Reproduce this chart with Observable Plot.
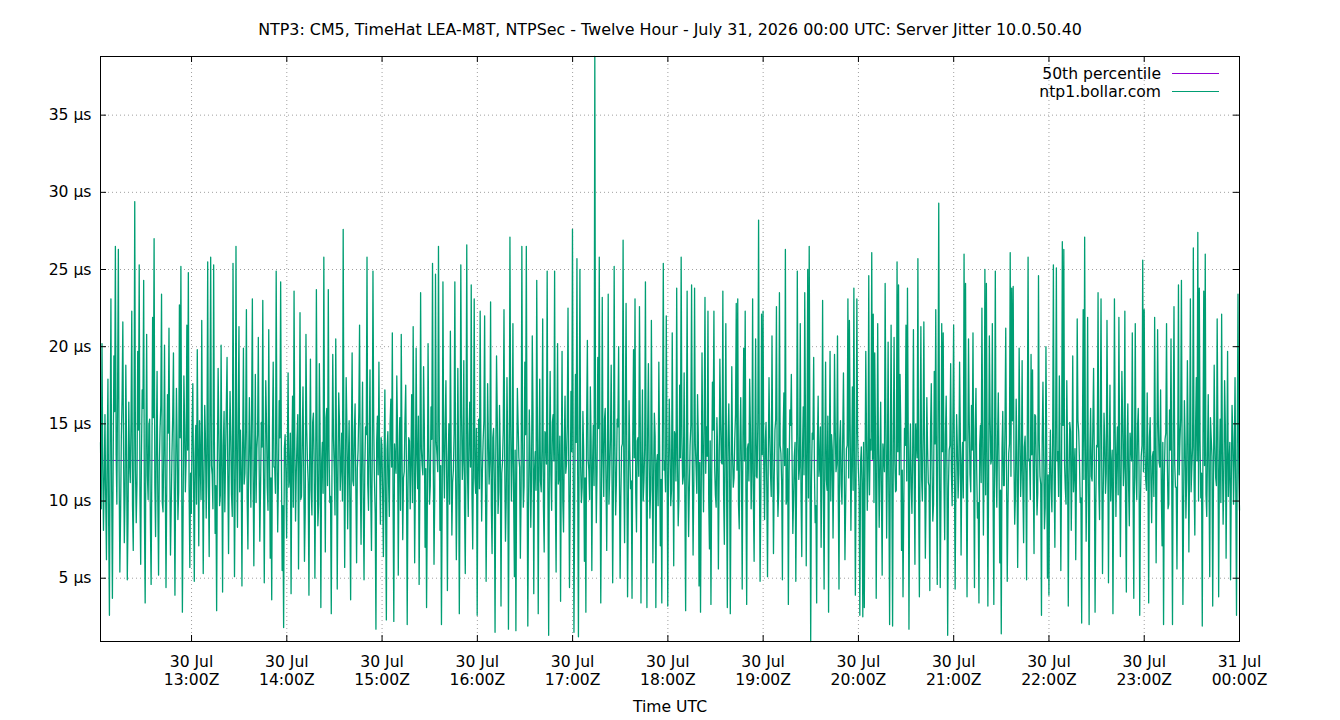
<!DOCTYPE html>
<html>
<head>
<meta charset="utf-8">
<script src="https://cdn.jsdelivr.net/npm/d3@7"></script>
<script src="https://cdn.jsdelivr.net/npm/@observablehq/plot@0.6"></script>
<style>
  html, body { margin: 0; padding: 0; background: #fff; overflow: hidden; }
  #chart { width: 1340px; height: 720px; }
</style>
</head>
<body>
<div id="chart"></div>
<script>
// ---- Text ----
const title = "NTP3: CM5, TimeHat LEA-M8T, NTPSec - Twelve Hour - July 31, 2026 00:00 UTC: Server Jitter 10.0.50.40";
const xLabel = "Time UTC";
const seriesNames = ["50th percentile", "ntp1.bollar.com"];
const seriesColors = ["#9400d3", "#009e73"];

// ---- Axes ----
const firstSample = "2026-07-30T12:02:40Z";
const lastSample = "2026-07-31T00:00:00Z";
const hourTicks = [
  "2026-07-30T13:00:00Z", "2026-07-30T14:00:00Z", "2026-07-30T15:00:00Z",
  "2026-07-30T16:00:00Z", "2026-07-30T17:00:00Z", "2026-07-30T18:00:00Z",
  "2026-07-30T19:00:00Z", "2026-07-30T20:00:00Z", "2026-07-30T21:00:00Z",
  "2026-07-30T22:00:00Z", "2026-07-30T23:00:00Z", "2026-07-31T00:00:00Z"
];
const yTicks = [5, 10, 15, 20, 25, 30, 35];

// ---- 50th percentile of server jitter (µs) ----
const median50 = 12.63;

// ---- Server jitter samples (µs), one array per UTC hour ----
const jitter12 = [
  13.8, 9.5, 20.2, 12.6, 8.1, 11.4, 15.6, 10.2, 6.2, 13.1, 17.9, 8.4, 2.6, 14.3, 23.1, 10.7,
  3.7, 12.2, 19.4, 15.8, 26.5, 13.0, 9.8, 17.5, 26.3, 11.9, 5.4, 9.1, 14.2, 16.7, 21.6, 12.8,
  7.3, 10.5, 18.8, 13.6, 4.9, 8.9, 16.4, 12.4, 11.2, 15.1, 22.3, 9.7, 6.8, 14.0, 29.4, 12.0,
  8.6, 11.1, 19.7, 14.6, 25.3, 10.3, 5.9, 12.9, 17.2, 16.0, 24.3, 9.2, 3.4, 13.5, 20.8, 11.6,
  10.1, 14.9, 15.3, 8.7, 4.6, 12.5, 21.9, 15.4, 27.0, 11.0, 7.7, 13.8, 18.4, 10.0, 5.2, 12.3,
  14.7, 16.2, 23.4, 9.9, 9.3, 13.2, 20.1, 11.5, 4.4, 10.8, 16.9, 14.4, 21.2, 12.7, 6.5, 9.6,
  13.1, 15.5, 19.6, 11.3, 3.9, 12.1, 17.3, 13.7, 8.8, 10.6, 22.7, 14.1, 25.2, 12.0, 2.8, 9.4,
  18.1, 15.0, 10.6, 12.6, 21.4, 13.3, 24.8, 10.9, 5.7, 11.8
];
const jitter13 = [
  9.2, 14.7, 17.6, 11.3, 4.8, 12.9, 14.9, 9.8, 19.8, 13.4, 7.1, 15.2, 12.4, 10.1, 21.7, 12.6,
  5.3, 11.7, 16.2, 14.0, 8.9, 13.1, 25.5, 10.9, 6.4, 15.7, 25.8, 12.3, 11.7, 9.5, 25.3, 13.8,
  7.9, 11.0, 2.9, 12.8, 18.6, 14.5, 9.7, 10.4, 20.1, 12.2, 4.1, 13.6, 15.8, 9.3, 12.9, 16.1,
  19.3, 11.8, 6.6, 12.7, 17.1, 14.2, 10.4, 9.0, 25.4, 13.3, 5.1, 11.4, 26.5, 12.5, 8.3, 15.3,
  21.3, 10.6, 14.6, 12.0, 4.5, 13.9, 19.9, 11.1, 11.8, 14.8, 22.4, 10.2, 6.9, 12.4, 16.7, 13.0,
  9.6, 15.9, 23.1, 11.6, 5.8, 12.1, 18.2, 9.9, 13.4, 14.3, 20.6, 12.9, 7.4, 10.8, 15.1, 13.5,
  23.0, 11.9, 4.7, 12.6, 17.8, 15.0, 10.9, 9.4, 21.1, 13.2, 6.3, 11.5, 3.6, 14.6, 19.0, 12.2,
  12.2, 10.5, 24.9, 13.7, 8.0, 11.2, 16.5, 14.1, 24.2, 12.8, 5.5, 9.7, 1.8, 13.4, 14.3, 11.9
];
const jitter14 = [
  7.6, 13.2, 18.3, 10.9, 11.5, 14.4, 4.0, 12.7, 16.8, 9.6, 23.6, 13.5, 8.7, 11.8, 14.0, 15.6,
  5.6, 12.3, 22.2, 10.1, 10.3, 13.9, 17.4, 12.0, 6.1, 9.3, 20.8, 14.7, 12.6, 11.2, 3.9, 13.1,
  19.2, 10.7, 9.1, 15.1, 15.7, 12.5, 5.0, 11.4, 23.7, 13.8, 8.4, 9.8, 18.9, 14.2, 3.1, 12.4,
  13.8, 10.5, 25.8, 12.9, 6.7, 15.4, 16.0, 11.0, 23.7, 13.3, 9.9, 10.3, 2.7, 12.8, 19.5, 14.0,
  12.1, 9.1, 20.5, 13.6, 4.3, 11.6, 17.0, 15.2, 10.7, 12.2, 14.4, 10.0, 27.6, 13.0, 5.7, 11.9,
  18.0, 14.9, 8.2, 12.6, 15.2, 9.5, 3.6, 13.7, 19.6, 11.3, 11.0, 14.5, 16.3, 10.8, 6.0, 12.1,
  13.3, 15.8, 21.4, 11.5, 7.2, 13.4, 17.7, 9.9, 4.9, 12.0, 14.8, 14.3, 25.8, 11.1, 9.4, 13.6,
  18.5, 10.4, 6.8, 12.8, 24.9, 15.0, 11.3, 9.2, 1.7, 13.9, 15.5, 11.7, 19.0, 12.4, 8.5, 14.1
];
const jitter15 = [
  13.6, 10.4, 6.4, 12.8, 17.2, 9.7, 2.3, 13.3, 14.5, 11.1, 9.0, 15.0, 16.6, 12.2, 20.9, 10.0,
  2.2, 13.7, 12.7, 11.8, 18.1, 14.6, 5.2, 12.4, 15.4, 9.4, 20.8, 13.1, 7.5, 11.5, 11.9, 15.3,
  17.5, 12.0, 2.0, 10.7, 14.1, 13.9, 9.5, 12.6, 16.9, 9.9, 21.3, 14.2, 6.0, 11.3, 19.9, 12.9,
  10.8, 15.5, 4.6, 10.9, 23.5, 13.4, 12.3, 11.7, 18.7, 14.8, 7.0, 12.1, 3.1, 9.6, 20.2, 13.6,
  9.8, 11.0, 16.1, 14.0, 25.4, 12.5, 5.9, 10.5, 24.7, 13.8, 13.0, 11.9, 26.5, 15.1, 8.1, 12.3,
  2.0, 10.2, 24.2, 13.2, 10.2, 14.9, 17.8, 11.6, 4.2, 12.7, 15.0, 9.8, 21.0, 13.5, 7.8, 11.2,
  12.0, 14.4, 24.2, 12.0, 6.2, 10.6, 18.6, 13.0, 2.7, 11.4, 25.3, 15.6, 11.4, 12.8, 19.1, 9.5,
  5.3, 13.7, 26.6, 11.8, 9.0, 14.3, 16.4, 12.2, 24.0, 10.4, 6.9, 13.1, 23.1, 11.5, 10.5, 14.7
];
const jitter16 = [
  2.6, 12.4, 15.3, 10.8, 22.3, 13.6, 8.7, 11.9, 13.9, 15.2, 22.0, 12.1, 4.8, 10.3, 17.6, 13.9,
  11.1, 12.6, 22.9, 9.7, 6.6, 14.1, 14.7, 11.4, 1.5, 12.9, 19.4, 15.4, 9.2, 10.6, 16.2, 13.2,
  3.2, 11.8, 12.5, 14.6, 22.4, 12.3, 7.4, 10.1, 18.0, 13.5, 1.7, 11.2, 27.1, 14.8, 10.0, 12.7,
  21.5, 9.9, 5.1, 13.3, 1.6, 11.6, 17.3, 15.0, 12.8, 12.2, 6.3, 10.4, 26.5, 13.8, 9.6, 11.0,
  19.0, 14.3, 26.5, 12.5, 1.9, 9.8, 15.9, 13.1, 8.3, 11.5, 20.7, 15.7, 4.0, 12.0, 13.2, 10.7,
  24.3, 14.0, 2.7, 12.8, 17.9, 11.3, 10.6, 13.4, 21.8, 9.6, 6.7, 14.5, 14.3, 12.4, 24.9, 10.9,
  1.3, 13.0, 18.4, 11.7, 9.4, 15.1, 15.6, 12.6, 24.9, 10.2, 5.4, 13.7, 20.2, 11.1, 11.6, 14.2,
  3.5, 12.3, 19.7, 10.0, 8.0, 13.6, 16.8, 11.8, 12.4, 14.9, 22.5, 12.1, 4.4, 10.5, 17.1, 13.2
];
const jitter17 = [
  27.6, 12.9, 1.5, 10.6, 18.2, 13.8, 25.7, 11.7, 1.2, 14.4, 25.0, 12.2, 9.9, 10.9, 15.8, 13.3,
  6.1, 11.5, 2.8, 15.0, 20.4, 12.7, 12.0, 10.1, 17.4, 13.9, 5.5, 12.4, 14.9, 11.0, 38.8, 13.6,
  8.6, 11.9, 19.3, 14.7, 25.8, 12.1, 3.4, 10.4, 23.2, 13.1, 10.3, 15.3, 16.0, 11.4, 6.8, 12.6,
  23.4, 9.8, 11.7, 14.0, 18.8, 12.3, 4.7, 10.7, 25.2, 13.5, 9.1, 11.2, 15.3, 14.8, 20.0, 12.0,
  5.0, 10.3, 13.5, 13.7, 26.9, 11.8, 7.3, 15.1, 22.8, 12.5, 3.8, 9.9, 16.5, 13.2, 10.8, 11.3,
  3.7, 14.3, 19.8, 12.8, 23.1, 10.5, 8.0, 13.9, 14.1, 11.6, 22.6, 15.5, 3.4, 12.2, 17.2, 10.0,
  11.3, 13.4, 24.2, 11.1, 3.1, 14.6, 18.9, 12.7, 8.9, 10.8, 21.7, 13.0, 6.0, 11.7, 15.7, 14.2,
  3.1, 12.4, 13.0, 9.7, 19.0, 13.6, 7.1, 11.4, 3.4, 15.2, 25.4, 12.0, 12.6, 10.6, 22.0, 13.8
];
const jitter18 = [
  3.2, 11.9, 16.6, 13.4, 9.7, 10.7, 20.9, 12.6, 5.8, 14.5, 14.2, 11.3, 23.8, 13.0, 8.4, 10.2,
  17.5, 12.8, 25.8, 14.1, 11.1, 11.6, 18.3, 9.9, 2.9, 13.5, 23.6, 12.0, 7.7, 10.8, 13.6, 14.9,
  24.0, 12.3, 6.5, 11.1, 23.8, 13.7, 12.2, 10.5, 16.9, 14.3, 4.5, 12.5, 2.8, 11.0, 19.6, 13.2,
  9.3, 15.4, 23.2, 11.8, 14.8, 12.9, 22.3, 10.1, 6.9, 13.9, 3.3, 11.4, 17.7, 14.6, 22.3, 12.2,
  10.4, 9.6, 15.4, 13.3, 5.6, 11.7, 19.2, 15.0, 12.5, 12.4, 23.6, 10.4, 7.2, 13.6, 21.5, 11.2,
  3.1, 14.0, 16.3, 12.7, 2.7, 10.9, 18.7, 13.1, 10.9, 11.5, 14.0, 15.6, 22.8, 12.0, 23.1, 9.8,
  8.2, 13.8, 16.7, 11.9, 4.3, 14.4, 19.9, 12.6, 22.3, 10.6, 3.3, 13.4, 13.7, 11.3, 17.9, 14.7,
  9.5, 12.1, 23.1, 10.0, 6.1, 13.5, 20.5, 11.6, 11.5, 15.2, 28.2, 12.8, 4.8, 10.3, 22.1, 13.0
];
const jitter19 = [
  22.3, 12.4, 8.8, 13.9, 15.1, 10.9, 5.1, 12.7, 18.0, 14.2, 11.8, 10.3, 20.7, 13.1, 6.6, 11.5,
  14.6, 15.3, 22.6, 12.0, 9.0, 10.6, 23.5, 13.6, 13.1, 11.2, 4.9, 14.5, 17.0, 12.3, 26.3, 9.8,
  10.1, 13.4, 3.3, 11.8, 15.9, 14.9, 18.2, 12.6, 7.9, 10.1, 12.9, 13.8, 4.8, 11.0, 24.9, 14.3,
  11.4, 12.2, 21.5, 10.5, 6.4, 13.2, 16.1, 11.7, 23.5, 15.1, 5.8, 12.8, 25.0, 10.2, 26.5, 13.5,
  0.9, 11.3, 14.4, 14.0, 19.3, 12.1, 8.6, 9.7, 3.4, 13.7, 16.8, 11.6, 12.3, 14.8, 7.0, 12.5,
  23.0, 10.8, 4.3, 13.0, 19.0, 11.4, 10.7, 15.5, 2.8, 12.9, 19.7, 10.0, 14.3, 13.3, 7.6, 11.9,
  19.5, 14.6, 11.9, 12.4, 20.7, 10.4, 4.3, 13.9, 15.2, 11.1, 9.8, 14.1, 18.3, 12.7, 6.2, 9.9,
  13.4, 13.6, 23.1, 11.5, 21.7, 15.0, 8.1, 12.2, 17.4, 10.7, 23.8, 13.1, 3.9, 11.8, 23.1, 14.4
];
const jitter20 = [
  12.1, 10.8, 2.6, 12.5, 13.5, 11.2, 2.5, 13.8, 3.1, 11.6, 19.7, 14.2, 9.4, 12.1, 24.6, 10.4,
  14.0, 13.3, 26.1, 12.7, 22.1, 9.9, 19.6, 14.6, 3.7, 11.4, 21.5, 13.0, 8.3, 12.2, 16.4, 10.6,
  5.2, 13.7, 12.8, 11.9, 24.1, 15.2, 7.6, 12.4, 20.3, 10.2, 2.0, 13.5, 21.4, 11.1, 1.9, 14.0,
  20.6, 12.6, 10.6, 10.7, 25.5, 13.2, 24.0, 11.7, 18.2, 14.8, 6.8, 12.0, 3.8, 9.6, 14.7, 13.6,
  21.4, 11.3, 23.8, 14.5, 1.7, 12.3, 15.0, 10.9, 9.2, 13.1, 21.1, 11.8, 5.9, 15.0, 13.9, 12.8,
  25.7, 10.1, 3.8, 13.9, 21.3, 11.5, 10.0, 14.1, 21.6, 12.5, 6.3, 10.5, 16.7, 13.4, 11.2, 11.0,
  4.2, 14.7, 17.6, 12.2, 8.7, 9.8, 18.4, 13.7, 22.4, 11.6, 4.6, 15.3, 29.3, 12.9, 4.4, 10.3,
  21.5, 13.2, 20.9, 11.4, 7.5, 14.3, 16.8, 12.1, 1.3, 10.8, 13.3, 13.6, 18.9, 11.9, 9.7, 14.9
];
const jitter21 = [
  21.4, 12.6, 4.3, 10.9, 15.6, 13.5, 10.2, 11.8, 19.0, 14.4, 6.5, 12.3, 13.8, 10.2, 26.0, 13.9,
  24.1, 11.4, 3.8, 12.8, 20.5, 15.1, 11.7, 10.6, 16.2, 13.3, 20.9, 11.7, 4.4, 14.6, 17.3, 12.0,
  8.9, 9.9, 3.4, 13.6, 14.9, 11.2, 22.5, 14.2, 7.8, 12.5, 25.0, 10.4, 24.1, 13.1, 3.2, 11.5,
  20.7, 15.4, 12.4, 12.7, 21.5, 10.0, 3.3, 13.8, 24.9, 11.9, 9.6, 14.0, 17.0, 12.2, 6.0, 10.7,
  1.4, 13.4, 15.8, 11.0, 11.0, 14.8, 21.2, 12.4, 4.8, 9.7, 13.1, 13.7, 26.1, 11.6, 23.8, 15.2,
  23.9, 12.9, 8.5, 10.3, 16.6, 13.2, 5.7, 11.3, 19.9, 14.3, 10.3, 12.1, 19.1, 10.8, 7.3, 13.5,
  14.2, 11.8, 4.9, 14.7, 25.8, 12.6, 12.7, 10.1, 19.5, 13.0, 18.5, 11.4, 6.6, 15.6, 15.5, 12.3,
  9.1, 10.5, 24.6, 13.9, 11.6, 11.1, 2.6, 14.1, 17.7, 12.8, 8.2, 9.6, 20.0, 13.3, 5.0, 11.7
];
const jitter22 = [
  3.9, 12.2, 14.6, 10.8, 9.3, 13.7, 25.3, 11.5, 7.0, 14.3, 25.1, 12.6, 13.2, 10.3, 18.1, 13.1,
  5.5, 11.9, 26.8, 14.9, 26.3, 12.4, 10.8, 9.8, 17.8, 13.6, 3.2, 11.2, 15.1, 14.5, 8.1, 12.0,
  19.4, 10.6, 12.0, 13.4, 6.2, 11.7, 21.8, 15.2, 14.5, 12.7, 9.9, 10.2, 2.1, 13.9, 22.4, 11.4,
  27.1, 14.0, 7.4, 12.3, 21.9, 10.5, 2.0, 13.2, 16.0, 11.6, 11.3, 14.7, 18.6, 12.8, 2.8, 9.9,
  13.6, 13.5, 23.5, 11.1, 8.8, 15.0, 23.1, 12.1, 5.3, 10.7, 15.7, 13.8, 10.5, 11.8, 21.7, 14.2,
  4.7, 12.5, 17.5, 10.0, 12.1, 13.3, 2.7, 11.3, 23.1, 14.6, 9.0, 12.9, 14.8, 10.4, 21.9, 13.0,
  6.4, 11.6, 18.4, 15.3, 11.0, 12.2, 22.3, 9.7, 4.1, 13.7, 16.3, 11.0, 8.4, 14.4, 13.5, 12.6,
  20.9, 10.9, 3.7, 13.1, 21.5, 11.5, 10.1, 14.8, 16.0, 12.3, 2.6, 10.1, 12.9, 13.6, 25.6, 11.9
];
const jitter23 = [
  22.4, 13.4, 11.4, 10.7, 17.0, 12.5, 3.4, 14.1, 15.4, 11.3, 8.6, 12.9, 13.2, 10.3, 21.9, 13.6,
  6.0, 11.9, 21.1, 15.0, 12.5, 12.2, 17.2, 10.5, 7.1, 13.8, 2.0, 11.6, 14.0, 14.4, 21.5, 12.7,
  9.5, 9.8, 15.9, 13.3, 20.5, 11.1, 2.0, 14.6, 22.6, 12.4, 10.9, 10.9, 5.6, 13.0, 24.0, 11.7,
  13.9, 15.3, 24.3, 12.1, 3.3, 10.2, 16.5, 13.7, 8.9, 11.4, 19.1, 14.0, 6.7, 12.8, 23.1, 10.6,
  12.2, 13.5, 26.4, 11.2, 7.8, 14.8, 18.0, 12.6, 27.4, 10.0, 23.8, 13.9, 10.2, 11.8, 1.9, 14.3,
  23.6, 12.3, 26.0, 10.4, 9.0, 13.1, 16.9, 11.5, 5.1, 15.4, 14.1, 12.9, 3.2, 10.8, 18.8, 13.6,
  11.5, 11.0, 21.8, 14.5, 3.8, 12.0, 15.3, 9.9, 22.1, 13.2, 8.5, 11.7, 17.8, 14.9, 6.3, 12.5,
  19.7, 10.3, 12.4, 13.8, 4.9, 11.3, 16.2, 14.2, 9.8, 12.7, 18.0, 10.6, 2.6, 13.4, 23.4, 11.8,
  9.4
];

// ---- Build the sample table (evenly spaced polls) ----
const jitterUs = [].concat(
  jitter12, jitter13, jitter14, jitter15, jitter16, jitter17,
  jitter18, jitter19, jitter20, jitter21, jitter22, jitter23
);
const t0 = new Date(firstSample);
const t1 = new Date(lastSample);
const pollMs = (t1 - t0) / (jitterUs.length - 1);
const samples = jitterUs.map((us, i) => ({time: new Date(+t0 + i * pollMs), us}));
const xTickDates = hourTicks.map(s => new Date(s));

// ---- Layout / style ----
const FONT = "DejaVu Sans";
const FS = 15.6;
const W = 1340, H = 720;
const MT = 56, MR = 101, MB = 79, ML = 100;
const FW = W - ML - MR, FH = H - MT - MB;
const TICK = 6;
const fmtDay = d3.utcFormat("%d %b");
const fmtHour = d3.utcFormat("%H:%MZ");
const gridStyle = {stroke: "#a0a0a0", strokeOpacity: 1, strokeWidth: 1, strokeDasharray: "1,3"};

// Key in the upper-right corner of the frame
function key(index, scales, values, dims) {
  const g = d3.create("svg:g")
    .attr("font-family", FONT)
    .attr("font-size", FS);
  const right = dims.width - dims.marginRight;
  seriesNames.forEach((name, i) => {
    const y = dims.marginTop + 17.5 + i * 18;
    g.append("text")
      .attr("x", right - 78).attr("y", y)
      .attr("dy", "0.35em")
      .attr("text-anchor", "end")
      .attr("fill", "#000")
      .text(name);
    g.append("line")
      .attr("x1", right - 67).attr("x2", right - 20)
      .attr("y1", y).attr("y2", y)
      .attr("stroke", seriesColors[i])
      .attr("stroke-width", 1);
  });
  return g.node();
}

const chart = Plot.plot({
  width: W,
  height: H,
  marginTop: MT,
  marginRight: MR,
  marginBottom: MB,
  marginLeft: ML,
  style: {fontFamily: FONT, fontSize: FS + "px", background: "#fff", color: "#000"},
  x: {type: "utc", domain: [t0, t1]},
  y: {domain: d3.extent(jitterUs)},
  marks: [
    // dotted grid
    Plot.ruleY(yTicks, gridStyle),
    Plot.ruleX(xTickDates.filter(d => +d < +t1), gridStyle),
    // 50th percentile, then the jitter trace on top
    Plot.ruleY([median50], {stroke: seriesColors[0], strokeWidth: 1}),
    Plot.line(samples, {x: "time", y: "us", stroke: seriesColors[1], strokeWidth: 1.3}),
    // border and inward, mirrored tics
    Plot.frame({stroke: "#000", strokeWidth: 1}),
    Plot.ruleY(yTicks, {stroke: "#000", insetRight: FW - TICK}),
    Plot.ruleY(yTicks, {stroke: "#000", insetLeft: FW - TICK}),
    Plot.ruleX(xTickDates, {stroke: "#000", insetTop: FH - TICK}),
    Plot.ruleX(xTickDates, {stroke: "#000", insetBottom: FH - TICK}),
    // tick labels
    Plot.axisY(yTicks, {tickSize: 0, tickPadding: 9, tickFormat: d => `${d} µs`, label: null}),
    Plot.axisX(xTickDates, {
      tickSize: 0, tickPadding: 13, lineHeight: 1.15, label: null,
      tickFormat: d => `${fmtDay(d)}\n${fmtHour(d)}`
    }),
    // axis title and chart title
    Plot.text([xLabel], {text: d => d, frameAnchor: "bottom", dy: 65, lineAnchor: "middle"}),
    Plot.text([title], {text: d => d, frameAnchor: "top", dy: -27, lineAnchor: "middle", fontSize: 15.9}),
    key
  ]
});

document.getElementById("chart").append(chart);
</script>
</body>
</html>
